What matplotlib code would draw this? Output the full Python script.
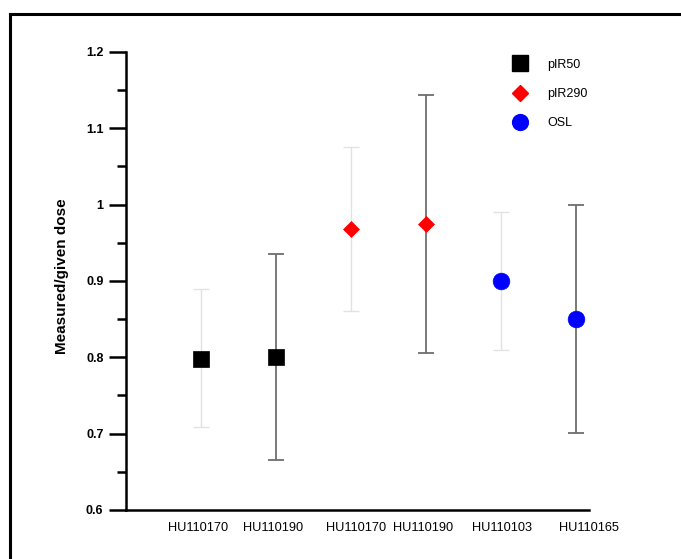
import matplotlib
matplotlib.use("Agg")
import matplotlib.pyplot as plt
from matplotlib.lines import Line2D
from matplotlib.ticker import MultipleLocator

plt.rcParams["font.family"] = ["Liberation Sans", "DejaVu Sans"]

# samples, grouped by method
samples = ["HU110170", "HU110190", "HU110170", "HU110190", "HU110103", "HU110165"]
methods = ["pIR50", "pIR50", "pIR290", "pIR290", "OSL", "OSL"]
ratio = [0.798, 0.801, 0.968, 0.975, 0.900, 0.850]
err_hi = [0.889, 0.936, 1.075, 1.144, 0.990, 1.000]
err_lo = [0.709, 0.666, 0.861, 0.806, 0.810, 0.701]
yticks = [0.6, 0.7, 0.8, 0.9, 1.0, 1.1, 1.2]
ytick_labels = ["0.6", "0.7", "0.8", "0.9", "1", "1.1", "1.2"]

style = {
    "pIR50": dict(marker="s", color="black", ms=11.5),
    "pIR290": dict(marker="D", color="red", ms=8.5),
    "OSL": dict(marker="o", color="blue", ms=12),
}
# alternating faint / dark error bars, as in the original
bar_colors = ["#e2e2e2", "#6e6e6e"] * 3
bar_widths = [1.0, 1.3] * 3
# the sample names sit a little off-centre under their points
label_shift = [-0.04, -0.04, 0.07, -0.04, 0.02, 0.17]

fig = plt.figure(figsize=(6.81, 5.59), dpi=100)
ax = fig.add_axes([0.1846, 0.0877, 0.680, 0.8193])

for i, (m, y, hi, lo) in enumerate(zip(methods, ratio, err_hi, err_lo)):
    x = i + 1
    ax.errorbar([x], [y], yerr=[[y - lo], [hi - y]], fmt="none",
                ecolor=bar_colors[i], elinewidth=bar_widths[i], capsize=5.8,
                capthick=bar_widths[i], zorder=2, clip_on=False)
    ax.plot([x], [y], linestyle="none", markeredgewidth=0.5,
            markeredgecolor=style[m]["color"], zorder=3, clip_on=False,
            marker=style[m]["marker"], color=style[m]["color"], markersize=style[m]["ms"])

ax.set_xlim(0, 5.95)
ax.set_ylim(0.6, 1.2)
ax.set_yticks(yticks)
ax.set_yticklabels(ytick_labels, fontweight="bold", fontsize=9)
ax.yaxis.set_minor_locator(MultipleLocator(0.05))
ax.tick_params(axis="y", which="major", length=12, width=1.8, direction="out", pad=4)
ax.tick_params(axis="y", which="minor", length=6.5, width=1.8, direction="out")

ax.set_xticks([i + 1 + s for i, s in enumerate(label_shift)])
ax.set_xticklabels(samples, fontsize=9.2)
ax.tick_params(axis="x", length=0, pad=9)

for side in ("top", "right"):
    ax.spines[side].set_visible(False)
for side in ("left", "bottom"):
    ax.spines[side].set_linewidth(1.8)

ax.set_ylabel("Measured/given dose", fontweight="bold", fontsize=11)
ax.yaxis.set_label_coords(-0.122, 0.51)

handles = [Line2D([], [], linestyle="none", marker=style[k]["marker"], color=style[k]["color"],
                  markersize=style[k]["ms"] * 0.95, label=k) for k in style]
ax.legend(handles=handles, frameon=False, loc="upper left", bbox_to_anchor=(0.81, 1.01),
          fontsize=9, labelspacing=1.38, handletextpad=1.6, handlelength=1.2)

# outer frame of the original panel (left and top edges only visible)
fig.add_artist(Line2D([0.0147, 0.0147], [0.0, 0.975], color="black", lw=2.2,
                      transform=fig.transFigure))
fig.add_artist(Line2D([0.0147, 1.0], [0.975, 0.975], color="black", lw=2.2,
                      transform=fig.transFigure))

fig.savefig("out.png", dpi=100)
